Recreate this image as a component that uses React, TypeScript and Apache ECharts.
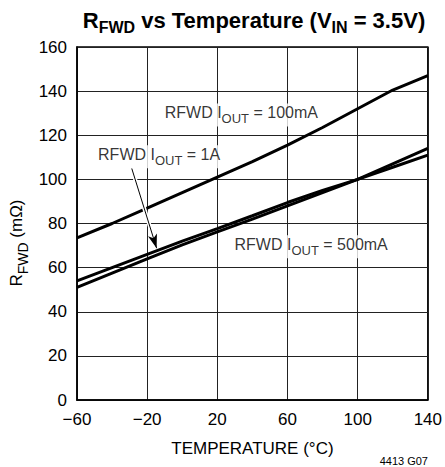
import React, { useEffect, useRef } from "react";
import * as echarts from "echarts";

const temps = [-60, -40, -20, 0, 20, 40, 60, 80, 100, 120, 140];
const r100mA = [73.5, 80, 87, 94, 101, 108, 115.5, 123.5, 132, 140.5, 147];
const r1A = [54, 60, 66, 72, 77.7, 83.5, 89.5, 95, 100, 105.5, 111];
const r500mA = [51, 57.5, 64, 70.3, 76.2, 82, 88, 94, 100, 107, 114];

const labelTexts = ["100mA", "1A", "500mA"];
const labelX = [-11.7, -49.7, 28.1];
const labelY = [129.2, 110.3, 69.5];

const arrowStart = [-28.8, 105];
const arrowEnd = [-14.6, 68.8];

const xTicks = [-60, -20, 20, 60, 100, 140];
const yTicks = [0, 20, 40, 60, 80, 100, 120, 140, 160];

const FONT = "'Liberation Sans Narrow', 'Liberation Sans', Arial, sans-serif";

function pairs(xs: number[], ys: number[]) {
  return xs.map((x, i) => [x, ys[i]]);
}

export default function App() {
  const ref = useRef<HTMLDivElement>(null);
  useEffect(() => {
    if (!ref.current) return;
    const chart = echarts.init(ref.current, undefined, { renderer: "svg" });
    const lineStyle = { color: "#000", width: 3 };
    const subLabelRich = {
      m: { fontFamily: FONT, fontSize: 16, color: "#000", verticalAlign: "top" },
      s: { fontFamily: FONT, fontSize: 13, color: "#000", verticalAlign: "top", padding: [8, 0, 0, 0] },
    };
    const yNameRich = {
      m: { fontFamily: FONT, fontSize: 17, color: "#000", verticalAlign: "top" },
      s: { fontFamily: FONT, fontSize: 14, color: "#000", verticalAlign: "top", padding: [8, 0, 0, 0] },
    };
    chart.setOption({
      animation: false,
      backgroundColor: "#fff",
      title: {
        text: "{m|R}{s|FWD}{m| vs Temperature (V}{s|IN}{m| = 3.5V)}",
        left: 249,
        textAlign: "center",
        top: 4,
        textStyle: {
          rich: {
            m: { fontFamily: FONT, fontSize: 22, fontWeight: "bold", color: "#000", verticalAlign: "top" },
            s: { fontFamily: FONT, fontSize: 16, fontWeight: "bold", color: "#000", verticalAlign: "top", padding: [10, 0, 0, 0] },
          },
        },
      },
      grid: {
        left: 77,
        right: 17,
        top: 47,
        bottom: 67,
        show: true,
        borderColor: "#000",
        borderWidth: 1.5,
        containLabel: false,
      },
      xAxis: {
        type: "value",
        min: xTicks[0],
        max: xTicks[xTicks.length - 1],
        interval: 40,
        name: "TEMPERATURE (°C)",
        nameLocation: "middle",
        nameGap: 40,
        nameTextStyle: { fontFamily: FONT, fontSize: 17, color: "#000" },
        axisLine: { show: true, onZero: false, lineStyle: { color: "#000", width: 1.5 } },
        axisTick: { show: false },
        axisLabel: {
          fontFamily: FONT,
          fontSize: 17,
          color: "#000",
          margin: 11,
          formatter: (v: number) => String(v).replace("-", "\u2212"),
        },
        splitLine: { show: true, lineStyle: { color: "#222", width: 1 } },
      },
      yAxis: {
        type: "value",
        min: yTicks[0],
        max: yTicks[yTicks.length - 1],
        interval: 20,
        axisLine: { show: true, onZero: false, lineStyle: { color: "#000", width: 1.5 } },
        axisTick: { show: false },
        axisLabel: { fontFamily: FONT, fontSize: 17, color: "#000", margin: 10 },
        splitLine: { show: true, lineStyle: { color: "#222", width: 1 } },
      },
      graphic: [
        {
          type: "text",
          x: 19,
          y: 243,
          rotation: Math.PI / 2,
          style: {
            text: "{m|R}{s|FWD}{m| (mΩ)}",
            align: "center",
            verticalAlign: "middle",
            rich: yNameRich,
          },
        },
        {
          type: "text",
          x: 428,
          y: 461,
          style: {
            text: "4413 G07",
            fontFamily: FONT,
            fontSize: 11,
            fill: "#000",
            align: "right",
            verticalAlign: "middle",
          },
        },
      ],
      series: [
        {
          name: "500mA",
          type: "line",
          data: pairs(temps, r500mA),
          showSymbol: false,
          lineStyle,
          z: 3,
        },
        {
          name: "1A",
          type: "line",
          data: pairs(temps, r1A),
          showSymbol: false,
          lineStyle,
          z: 3,
        },
        {
          name: "100mA",
          type: "line",
          data: pairs(temps, r100mA),
          showSymbol: false,
          lineStyle,
          z: 3,
          markLine: {
            silent: true,
            symbol: ["none", "arrow"],
            symbolSize: [7, 14],
            label: { show: false },
            data: [
              [
                { coord: arrowStart, symbol: "none", lineStyle: { color: "#fff", width: 4, type: "solid" } },
                { coord: arrowEnd, symbol: "none" },
              ],
              [
                { coord: arrowStart, lineStyle: { color: "#000", width: 1, type: "solid" } },
                { coord: arrowEnd },
              ],
            ],
          },
        },
        {
          name: "labels",
          type: "scatter",
          symbolSize: 0,
          z: 5,
          data: labelTexts.map((t, i) => [labelX[i], labelY[i], t]),
          label: {
            show: true,
            position: "right",
            distance: 0,
            backgroundColor: "#fff",
            padding: [1, 3, 1, 3],
            formatter: (p: any) => `{m|RFWD I}{s|OUT}{m| = ${p.data[2]}}`,
            rich: subLabelRich,
          },
        },
      ],
    });
    return () => chart.dispose();
  }, []);
  return (
    <div
      ref={ref}
      style={{ position: "absolute", left: 0, top: 0, width: 445, height: 467 }}
    />
  );
}
